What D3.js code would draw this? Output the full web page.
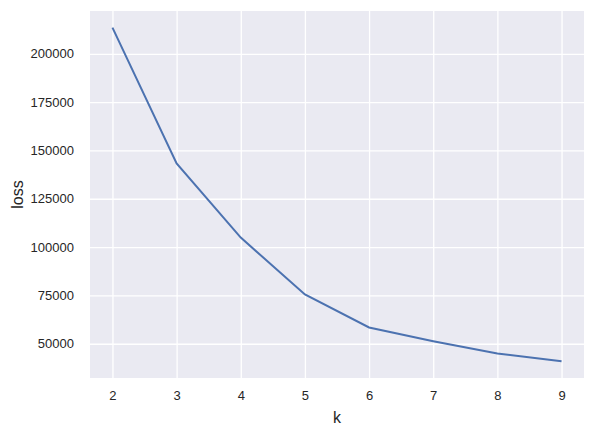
<!DOCTYPE html>
<html>
<head>
<meta charset="utf-8">
<script src="https://cdn.jsdelivr.net/npm/d3@7"></script>
<style>
  body { margin: 0; background: #fff; }
  svg text { font-family: "Liberation Sans", Arial, sans-serif; fill: #262626; }
</style>
</head>
<body>
<div id="chart"></div>
<script>
// elbow curve: number of clusters vs loss
var kValues = [2, 3, 4, 5, 6, 7, 8, 9];
var lossValues = [213500, 143300, 104900, 75500, 58400, 51300, 44900, 40900];
var xTicks = [2, 3, 4, 5, 6, 7, 8, 9];
var yTicks = [50000, 75000, 100000, 125000, 150000, 175000, 200000];

var data = kValues.map(function (k, i) { return { k: k, loss: lossValues[i] }; });

// set the dimensions and margins of the graph
var margin = { top: 11, right: 10, bottom: 56, left: 90 },
  width = 594 - margin.left - margin.right,
  height = 434 - margin.top - margin.bottom;

var svg = d3.select("#chart")
  .append("svg")
  .attr("width", 594)
  .attr("height", 434)
  .append("g")
  .attr("transform", "translate(" + margin.left + "," + margin.top + ")");

// matplotlib-like 5% margins
var xMin = d3.min(kValues), xMax = d3.max(kValues);
var xPad = (xMax - xMin) * 0.05;
var x = d3.scaleLinear().domain([xMin - xPad, xMax + xPad]).range([0, width]);

var yMin = d3.min(lossValues), yMax = d3.max(lossValues);
var yPad = (yMax - yMin) * 0.05;
var y = d3.scaleLinear().domain([yMin - yPad, yMax + yPad]).range([height, 0]);

// background
svg.append("rect")
  .attr("width", width)
  .attr("height", height)
  .style("fill", "#eaeaf2");

// x axis with grid
var xAxis = svg.append("g")
  .attr("transform", "translate(0," + height + ")")
  .call(d3.axisBottom(x).tickValues(xTicks).tickSize(-height).tickPadding(13).tickFormat(d3.format("d")));
xAxis.select(".domain").remove();
xAxis.selectAll("line").style("stroke", "#fff").style("stroke-width", 1.3);
xAxis.selectAll("text").style("font-size", "13px");

// y axis with grid
var yAxis = svg.append("g")
  .call(d3.axisLeft(y).tickValues(yTicks).tickSize(-width).tickPadding(16).tickFormat(d3.format("d")));
yAxis.select(".domain").remove();
yAxis.selectAll("line").style("stroke", "#fff").style("stroke-width", 1.3);
yAxis.selectAll("text").style("font-size", "13px");

// the line
var line = d3.line()
  .x(function (d) { return x(d.k); })
  .y(function (d) { return y(d.loss); });

svg.append("path")
  .datum(data)
  .attr("d", line)
  .style("fill", "none")
  .style("stroke", "#4c72b0")
  .style("stroke-width", 2);

// axis labels
svg.append("text")
  .attr("x", width / 2)
  .attr("y", height + 45)
  .attr("text-anchor", "middle")
  .style("font-size", "16px")
  .text("k");

svg.append("text")
  .attr("transform", "translate(" + (-67) + "," + (height / 2) + ") rotate(-90)")
  .attr("text-anchor", "middle")
  .style("font-size", "16px")
  .text("loss");
</script>
</body>
</html>
